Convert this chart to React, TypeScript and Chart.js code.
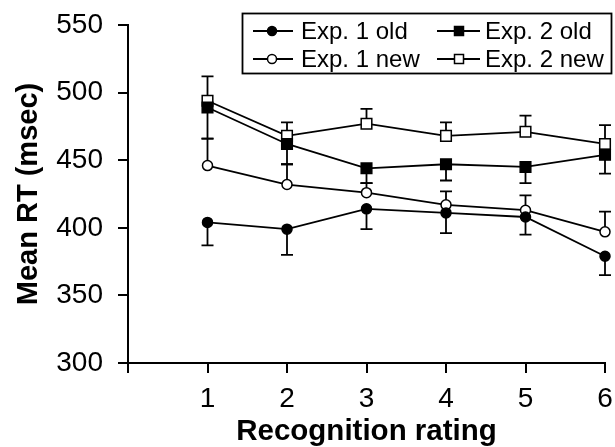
import React, { useEffect, useRef } from "react";
import { Chart, registerables } from "chart.js";

Chart.register(...registerables);

const FONT = "'Liberation Sans', Arial, Helvetica, sans-serif";

// Recognition rating categories
const ratings = [1, 2, 3, 4, 5, 6];

// Mean RT (msec) per series
const exp1Old = [404, 399, 414, 411, 408, 379];
const exp1New = [446, 432, 426, 417, 413, 397];
const exp2Old = [489, 462, 444, 447, 445, 454];
const exp2New = [494, 468, 477, 468, 471, 462];

// Error bar sizes (one-sided as drawn)
const exp1OldErr = [17, 19, 15, 15, 13, 14]; // downward
const exp1NewErr = [20, 15, 7, 10, 11, 15]; // upward
const exp2OldErr = [23, 15, 11, 12, 12, 14]; // downward
const exp2NewErr = [18, 10, 11, 10, 12, 14]; // upward

const seriesLabels = ["Exp. 1 old", "Exp. 1 new", "Exp. 2 old", "Exp. 2 new"];

const yMin = 300;
const yMax = 550;
const yStep = 50;
const xMin = 0;
const xMax = 6;

const toPoints = (vals: number[]) => ratings.map((r, i) => ({ x: r, y: vals[i] }));

const errorBarPlugin = {
  id: "errorBars",
  beforeDatasetsDraw(chart: any) {
    const { ctx, scales } = chart;
    const xs = scales.x;
    const ys = scales.y;
    ctx.save();
    ctx.strokeStyle = "#000";
    ctx.lineWidth = 1.8;
    chart.data.datasets.forEach((ds: any) => {
      ds.data.forEach((p: any, i: number) => {
        const px = xs.getPixelForValue(p.x);
        const py = ys.getPixelForValue(p.y);
        const end = ys.getPixelForValue(p.y + ds.errDir * ds.errVals[i]);
        ctx.beginPath();
        ctx.moveTo(px, py);
        ctx.lineTo(px, end);
        ctx.moveTo(px - 6, end);
        ctx.lineTo(px + 6, end);
        ctx.stroke();
      });
    });
    ctx.restore();
  },
};

const boxLegendPlugin = {
  id: "boxLegend",
  afterDraw(chart: any) {
    const ctx = chart.ctx;
    const ds = chart.data.datasets;
    ctx.save();
    ctx.strokeStyle = "#000";
    ctx.lineWidth = 1.8;
    ctx.strokeRect(242.5, 13.5, 369, 60);
    const entries = [
      { i: 0, lx: 253, rx: 293, mx: 272, tx: 301, y: 31 },
      { i: 1, lx: 253, rx: 293, mx: 272, tx: 301, y: 59 },
      { i: 2, lx: 437, rx: 480, mx: 459, tx: 485, y: 31 },
      { i: 3, lx: 437, rx: 480, mx: 459, tx: 485, y: 59 },
    ];
    ctx.font = `24px ${FONT}`;
    ctx.textBaseline = "middle";
    ctx.fillStyle = "#000";
    entries.forEach((e) => {
      const d = ds[e.i];
      ctx.lineWidth = 1.8;
      ctx.strokeStyle = "#000";
      ctx.beginPath();
      ctx.moveTo(e.lx, e.y);
      ctx.lineTo(e.rx, e.y);
      ctx.stroke();
      ctx.fillStyle = d.pointBackgroundColor;
      ctx.lineWidth = 1.5;
      ctx.beginPath();
      if (d.pointStyle === "rect") {
        ctx.rect(e.mx - 4.5, e.y - 4.5, 9, 9);
      } else {
        ctx.arc(e.mx, e.y, 4.5, 0, Math.PI * 2);
      }
      ctx.fill();
      ctx.stroke();
      ctx.fillStyle = "#000";
      ctx.fillText(d.label, e.tx, e.y + 1);
    });
    ctx.restore();
  },
};

export default function App() {
  const canvasRef = useRef<HTMLCanvasElement | null>(null);

  useEffect(() => {
    if (!canvasRef.current) return;
    const common = {
      borderColor: "#000",
      borderWidth: 1.8,
      pointBorderColor: "#000",
      pointBorderWidth: 1.5,
      tension: 0,
      showLine: true,
      clip: false,
    };
    const chart = new Chart(canvasRef.current, {
      type: "line",
      data: {
        datasets: [
          {
            ...common,
            label: seriesLabels[0],
            data: toPoints(exp1Old),
            pointStyle: "circle",
            pointRadius: 5,
            pointBackgroundColor: "#000",
            errVals: exp1OldErr,
            errDir: -1,
          },
          {
            ...common,
            label: seriesLabels[1],
            data: toPoints(exp1New),
            pointStyle: "circle",
            pointRadius: 5,
            pointBackgroundColor: "#fff",
            errVals: exp1NewErr,
            errDir: 1,
          },
          {
            ...common,
            label: seriesLabels[2],
            data: toPoints(exp2Old),
            pointStyle: "rect",
            pointRadius: 7.5,
            pointBackgroundColor: "#000",
            errVals: exp2OldErr,
            errDir: -1,
          },
          {
            ...common,
            label: seriesLabels[3],
            data: toPoints(exp2New),
            pointStyle: "rect",
            pointRadius: 7.5,
            pointBackgroundColor: "#fff",
            errVals: exp2NewErr,
            errDir: 1,
          },
        ] as any,
      },
      options: {
        animation: false,
        responsive: false,
        devicePixelRatio: 1,
        layout: { padding: { top: 25, right: 10, left: 0, bottom: 0 } },
        plugins: {
          legend: { display: false },
          tooltip: { enabled: false },
          title: { display: false },
        },
        scales: {
          x: {
            type: "linear",
            min: xMin,
            max: xMax,
            afterFit: (s: any) => {
              s.height = 84;
              s.paddingLeft = 0;
              s.paddingRight = 0;
            },
            ticks: {
              stepSize: 1,
              autoSkip: false,
              maxRotation: 0,
              color: "#000",
              padding: 9,
              font: { family: FONT, size: 28 },
              callback: (v: any) => (v === 0 ? "" : String(v)),
            },
            grid: {
              drawOnChartArea: false,
              drawTicks: true,
              tickLength: 10,
              color: "#000",
              lineWidth: 2,
            },
            border: { display: true, color: "#000", width: 2 },
            title: {
              display: true,
              text: "Recognition rating",
              color: "#000",
              font: { family: FONT, size: 29.5, weight: "bold", lineHeight: 1 },
              padding: { top: 0, bottom: 0 },
            },
          },
          y: {
            type: "linear",
            min: yMin,
            max: yMax,
            afterFit: (s: any) => {
              s.width = 128;
              s.paddingTop = 0;
              s.paddingBottom = 0;
            },
            ticks: {
              stepSize: yStep,
              color: "#000",
              padding: 15,
              font: { family: FONT, size: 28 },
            },
            grid: {
              drawOnChartArea: false,
              drawTicks: true,
              tickLength: 10,
              color: "#000",
              lineWidth: 2,
            },
            border: { display: true, color: "#000", width: 2 },
            title: {
              display: true,
              text: "Mean RT (msec)",
              color: "#000",
              font: { family: FONT, size: 29, weight: "bold", lineHeight: 1 },
              padding: { top: 14, bottom: 0 },
            },
          },
        },
      } as any,
      plugins: [errorBarPlugin, boxLegendPlugin],
    });
    return () => chart.destroy();
  }, []);

  return (
    <div style={{ position: "absolute", left: 0, top: 0, width: 615, height: 447, background: "#fff" }}>
      <canvas ref={canvasRef} width={615} height={447} style={{ width: 615, height: 447 }} />
    </div>
  );
}
